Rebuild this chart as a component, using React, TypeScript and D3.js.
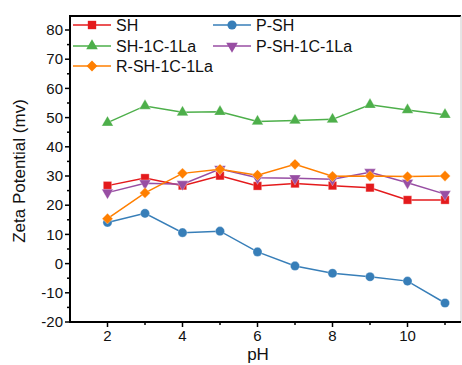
import * as d3 from 'd3';

// pH values shared by all series
const PH = [2, 3, 4, 5, 6, 7, 8, 9, 10, 11];

// zeta potential (mV)
const SH = [26.7, 29.3, 26.7, 30.1, 26.6, 27.4, 26.7, 26.0, 21.8, 21.8];
const P_SH = [14.1, 17.2, 10.6, 11.1, 4.0, -0.8, -3.3, -4.5, -6.0, -13.5];
const SH_1C_1LA = [48.3, 54.0, 51.8, 52.0, 48.7, 49.0, 49.4, 54.4, 52.6, 51.0];
const P_SH_1C_1LA = [24.3, 27.5, 27.2, 32.4, 29.4, 29.2, 28.9, 31.3, 27.7, 23.8];
const R_SH_1C_1LA = [15.4, 24.2, 30.9, 32.3, 30.3, 34.0, 29.9, 30.0, 29.8, 30.0];

const Y_TICKS = [-20, -10, 0, 10, 20, 30, 40, 50, 60, 70, 80];
const X_TICKS = [2, 4, 6, 8, 10];

const SERIES = [
  { name: 'SH', values: SH, color: '#e41a1c', shape: 'square' },
  { name: 'P-SH', values: P_SH, color: '#377eb8', shape: 'circle' },
  { name: 'SH-1C-1La', values: SH_1C_1LA, color: '#4daf4a', shape: 'triangle' },
  { name: 'P-SH-1C-1La', values: P_SH_1C_1LA, color: '#984ea3', shape: 'triangleDown' },
  { name: 'R-SH-1C-1La', values: R_SH_1C_1LA, color: '#ff7f00', shape: 'diamond' },
];

const W = 462;
const H = 365;
const M = { left: 70, top: 16, right: 461, bottom: 322 };
const FONT = 'Liberation Sans, Arial, sans-serif';

// marker path + rotation
function marker(shape: string) {
  if (shape === 'square') return { d: d3.symbol(d3.symbolSquare, 70)()!, rot: 0 };
  if (shape === 'circle') return { d: d3.symbol(d3.symbolCircle, 66)()!, rot: 0 };
  if (shape === 'triangle') return { d: d3.symbol(d3.symbolTriangle, 58)()!, rot: 0 };
  if (shape === 'triangleDown') return { d: d3.symbol(d3.symbolTriangle, 58)()!, rot: 180 };
  return { d: d3.symbol(d3.symbolSquare, 58)()!, rot: 45 };
}

export default function App() {
  const x = d3.scaleLinear().domain([1, 11.5]).range([M.left, M.left + 37.5 * 10.5]);
  const y = d3.scaleLinear().domain([-20, 85]).range([M.bottom, M.bottom - 2.92 * 105]);

  const line = d3
    .line<number>()
    .x((_, i) => x(PH[i]))
    .y((d) => y(d));

  const yMinor = d3.range(-15, 85, 10);
  const xMinor = [3, 5, 7, 9, 11];

  // legend layout
  const legend = [
    { col: 0, row: 0 },
    { col: 1, row: 0 },
    { col: 0, row: 1 },
    { col: 1, row: 1 },
    { col: 0, row: 2 },
  ];
  const legX = [73, 213];
  const legY = [25, 46, 66];

  return (
    <svg
      width={W}
      height={H}
      style={{ position: 'absolute', left: 0, top: 0, background: '#fff' }}
      fontFamily={FONT}
    >
      {/* series */}
      {SERIES.map((s) => {
        const mk = marker(s.shape);
        return (
          <g key={s.name}>
            <path d={line(s.values)!} fill="none" stroke={s.color} strokeWidth={1.5} />
            {s.values.map((v, i) => (
              <path
                key={i}
                d={mk.d}
                transform={`translate(${x(PH[i])},${y(v)}) rotate(${mk.rot})`}
                fill={s.color}
                stroke="#fff"
                strokeOpacity={0.5}
                strokeWidth={0.6}
              />
            ))}
          </g>
        );
      })}

      {/* legend */}
      {SERIES.map((s, i) => {
        const mk = marker(s.shape);
        const lx = legX[legend[i].col];
        const ly = legY[legend[i].row];
        return (
          <g key={'leg' + s.name}>
            <line x1={lx} x2={lx + 38} y1={ly} y2={ly} stroke={s.color} strokeWidth={1.5} />
            <path d={mk.d} transform={`translate(${lx + 19},${ly}) rotate(${mk.rot})`} fill={s.color} />
            <text x={lx + 43} y={ly} dy="0.35em" fontSize={16} fill="#111">
              {s.name}
            </text>
          </g>
        );
      })}

      {/* frame */}
      <line x1={M.left} x2={M.right} y1={M.top} y2={M.top} stroke="#000" strokeWidth={2} />
      <line x1={M.right} x2={M.right} y1={M.top} y2={M.bottom} stroke="#ccc" strokeWidth={1} />
      <line x1={M.left} x2={M.left} y1={M.top - 1} y2={M.bottom + 1} stroke="#000" strokeWidth={2} />
      <line x1={M.left - 1} x2={M.right} y1={M.bottom} y2={M.bottom} stroke="#000" strokeWidth={2} />

      {/* y axis */}
      {Y_TICKS.map((t) => (
        <g key={'y' + t}>
          <line x1={M.left - 5} x2={M.left} y1={y(t)} y2={y(t)} stroke="#000" strokeWidth={1.5} />
          <text x={M.left - 7} y={y(t)} dy="0.35em" textAnchor="end" fontSize={15} fill="#111">
            {t}
          </text>
        </g>
      ))}
      {yMinor.map((t) => (
        <line key={'ym' + t} x1={M.left - 3} x2={M.left} y1={y(t)} y2={y(t)} stroke="#000" strokeWidth={1.5} />
      ))}

      {/* x axis */}
      {X_TICKS.map((t) => (
        <g key={'x' + t}>
          <line x1={x(t)} x2={x(t)} y1={M.bottom} y2={M.bottom + 5} stroke="#000" strokeWidth={1.5} />
          <text x={x(t)} y={M.bottom + 19} textAnchor="middle" fontSize={15} fill="#111">
            {t}
          </text>
        </g>
      ))}
      {xMinor.map((t) => (
        <line key={'xm' + t} x1={x(t)} x2={x(t)} y1={M.bottom} y2={M.bottom + 3} stroke="#000" strokeWidth={1.5} />
      ))}

      {/* axis titles */}
      <text x={258} y={360} textAnchor="middle" fontSize={17} fill="#111">
        pH
      </text>
      <text
        transform={`translate(25,${(M.top + M.bottom) / 2 + 2}) rotate(-90)`}
        textAnchor="middle"
        fontSize={17}
        fill="#111"
      >
        Zeta Potential (mv)
      </text>
    </svg>
  );
}
